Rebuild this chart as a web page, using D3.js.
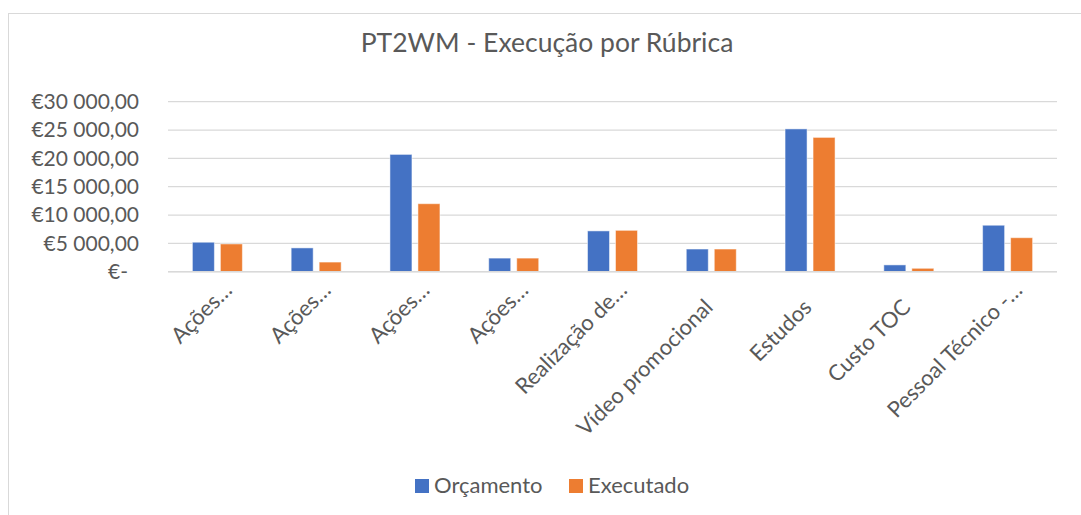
<!DOCTYPE html>
<html>
<head>
<meta charset="utf-8">
<script src="https://cdn.jsdelivr.net/npm/d3@7"></script>
<style>
  html, body { margin: 0; padding: 0; background: #fff; }
  svg { display: block; }
  text { font-family: Lato, "Noto Sans", sans-serif; fill: #595959; }
</style>
</head>
<body>
<svg id="chart" width="1081" height="515"></svg>
<script>
// ---- data ----
const title = "PT2WM - Execução por Rúbrica";
const categories = ["Ações…", "Ações…", "Ações…", "Ações…", "Realização de…", "Vídeo promocional", "Estudos", "Custo TOC", "Pessoal Técnico -…"];
const seriesNames = ["Orçamento", "Executado"];
const orcamento = [5200, 4200, 20700, 2400, 7200, 4000, 25200, 1200, 8200];
const executado = [4900, 1700, 12000, 2400, 7300, 4000, 23700, 600, 6000];
const yTicks = [0, 5000, 10000, 15000, 20000, 25000, 30000];
const yTickLabels = ["€-", "€5 000,00", "€10 000,00", "€15 000,00", "€20 000,00", "€25 000,00", "€30 000,00"];
const colors = ["#4472C4", "#ED7D31"];

// ---- layout ----
const svg = d3.select("#chart");
const plotLeft = 168, plotRight = 1057, plotTop = 101.7, plotBottom = 271.7;

svg.append("rect")
  .attr("x", 8.5).attr("y", 13.5).attr("width", 1100).attr("height", 600)
  .attr("fill", "#fff").attr("stroke", "#d9d9d9").attr("stroke-width", 1);

const x0 = d3.scaleBand().domain(d3.range(categories.length)).range([plotLeft, plotRight]).padding(0);
const step = 28, barW = 22;
const x1 = d3.scaleBand().domain(seriesNames)
  .range([0, x0.bandwidth()])
  .paddingInner((step - barW) / step)
  .paddingOuter((x0.bandwidth() / step - (2 - (step - barW) / step)) / 2);
const y = d3.scaleLinear().domain([0, 30000]).range([plotBottom, plotTop]);

// gridlines
svg.append("g").selectAll("line").data(yTicks).join("line")
  .attr("x1", plotLeft).attr("x2", plotRight)
  .attr("y1", d => y(d)).attr("y2", d => y(d))
  .attr("stroke", "#d9d9d9").attr("stroke-width", 1.3);

// y axis labels
const yAxis = d3.axisLeft(y).tickValues(yTicks)
  .tickFormat((d, i) => yTickLabels[i]).tickSize(0).tickPadding(29);
const gy = svg.append("g").attr("transform", `translate(${plotLeft},0)`).call(yAxis);
gy.select(".domain").remove();
gy.selectAll("text").style("font-family", "Lato, sans-serif").style("font-size", "21px")
  .attr("fill", "#595959")
  .attr("dx", d => d === 0 ? -11 : 0);

// bars
const rows = categories.map((c, i) => ({ i, vals: [orcamento[i], executado[i]] }));
const groups = svg.append("g").selectAll("g").data(rows).join("g")
  .attr("transform", d => `translate(${x0(d.i)},0)`);
groups.selectAll("rect").data(d => d.vals.map((v, k) => ({ k, v }))).join("rect")
  .attr("x", d => x1(seriesNames[d.k]))
  .attr("width", x1.bandwidth())
  .attr("y", d => y(d.v))
  .attr("height", d => y(0) - y(d.v))
  .attr("fill", d => colors[d.k])
  .attr("stroke", "#fff").attr("stroke-opacity", 0.5).attr("stroke-width", 1);

// x axis baseline
svg.append("line").attr("x1", plotLeft).attr("x2", plotRight)
  .attr("y1", y(0)).attr("y2", y(0))
  .attr("stroke", "#d9d9d9").attr("stroke-width", 1.5);

// x labels
const xAxis = d3.axisBottom(x0).tickFormat(i => categories[i]).tickSize(0);
const gx = svg.append("g").attr("transform", `translate(0,${y(0)})`).call(xAxis);
gx.select(".domain").remove();
gx.selectAll("text")
  .style("font-family", "Lato, sans-serif").style("font-size", "22px")
  .attr("fill", "#595959")
  .attr("text-anchor", "end")
  .attr("y", 0).attr("dy", 0)
  .attr("transform", i => categories[i].endsWith("…")
      ? "translate(16,20) rotate(-45)"
      : "translate(3,37) rotate(-45)");

// title
svg.append("text").attr("x", 547).attr("y", 52)
  .attr("text-anchor", "middle").style("font-size", "26.5px")
  .text(title);

// legend
const legend = svg.append("g");
const legendX = [415, 569];
seriesNames.forEach((s, k) => {
  legend.append("rect").attr("x", legendX[k]).attr("y", 479).attr("width", 14).attr("height", 14)
    .attr("fill", colors[k]);
  legend.append("text").attr("x", legendX[k] + 19).attr("y", 493)
    .style("font-size", "22px").text(s);
});
</script>
</body>
</html>
